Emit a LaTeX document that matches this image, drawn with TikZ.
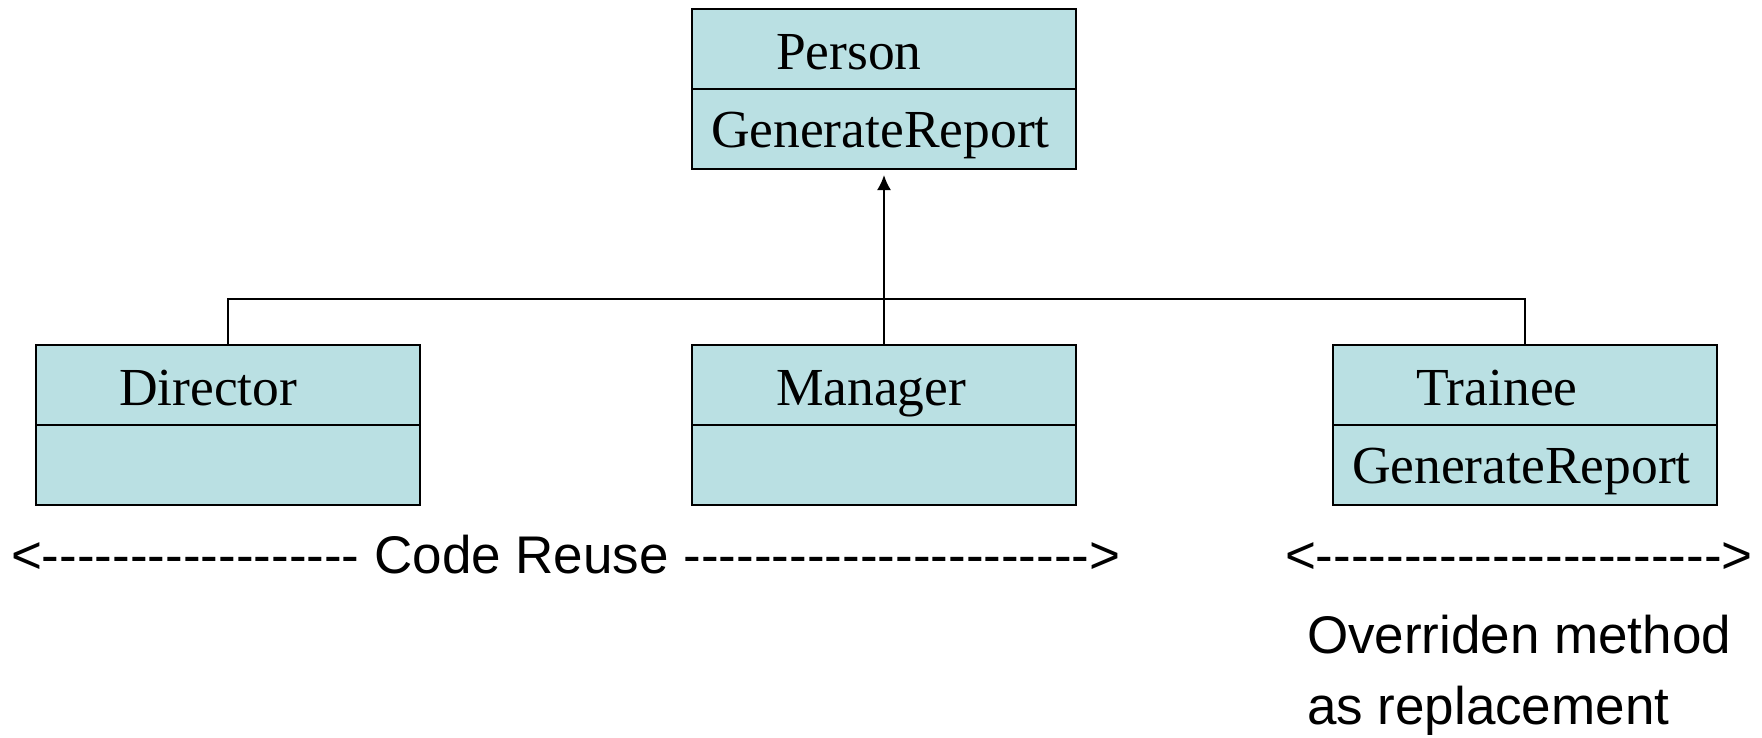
\documentclass[tikz,border=0pt]{standalone}
\usepackage{fontspec}
\setmainfont{Liberation Serif}
\newfontfamily\notefont[Ligatures=TeXOff]{Liberation Sans}
\usetikzlibrary{arrows.meta}
\definecolor{classfill}{RGB}{186,224,227}

\begin{document}
\begin{tikzpicture}[x=1pt,y=-1pt,line width=2pt]
  \tikzstyle{classpart}=[rectangle,draw=black,fill=classfill,anchor=north west,minimum width=384pt,minimum height=80pt,inner sep=0pt]
  \tikzstyle{classtext}=[anchor=base west,inner sep=0pt,font=\fontsize{53.5}{62}\selectfont]
  \tikzstyle{note}=[anchor=base west,inner sep=0pt,font=\notefont\fontsize{53}{62}\selectfont]
  \useasboundingbox (0,0) rectangle (1762,737);
  % base class
  \node[classpart] (P_top) at (691,8) {};
  \node[classpart] (P_bot) at (691,88) {};
  \node[classtext] (P_name) at (775,69) {Person};
  \node[classtext] (P_meth) at (710,147) {GenerateReport};
  % derived classes
  \node[classpart] (D_top) at (35,344) {};
  \node[classpart] (D_bot) at (35,424) {};
  \node[classtext] (D_name) at (118,405) {Director};
  \node[classpart] (M_top) at (691,344) {};
  \node[classpart] (M_bot) at (691,424) {};
  \node[classtext] (M_name) at (775,405) {Manager};
  \node[classpart] (T_top) at (1332,344) {};
  \node[classpart] (T_bot) at (1332,424) {};
  \node[classtext] (T_name) at (1415,405) {Trainee};
  \node[classtext] (T_meth) at (1351,483) {GenerateReport};
  % inheritance
  \coordinate (bus) at (883,299);
  \draw (D_top.north) |- (bus) -| (T_top.north);
  \draw[-{Latex[length=15pt,width=14pt]},shorten >=5pt] (M_top.north) -- (P_bot.south);
  % notes
  \node[note] (reuse) at (10,573) {<------------------ Code Reuse ----------------------->};
  \node[note] (over) at (1284,573) {<----------------------->};
  \node[note] (over_1) at (1306,653) {Overriden method};
  \node[note] (over_2) at (1306,724) {as replacement};
\end{tikzpicture}
\end{document}
